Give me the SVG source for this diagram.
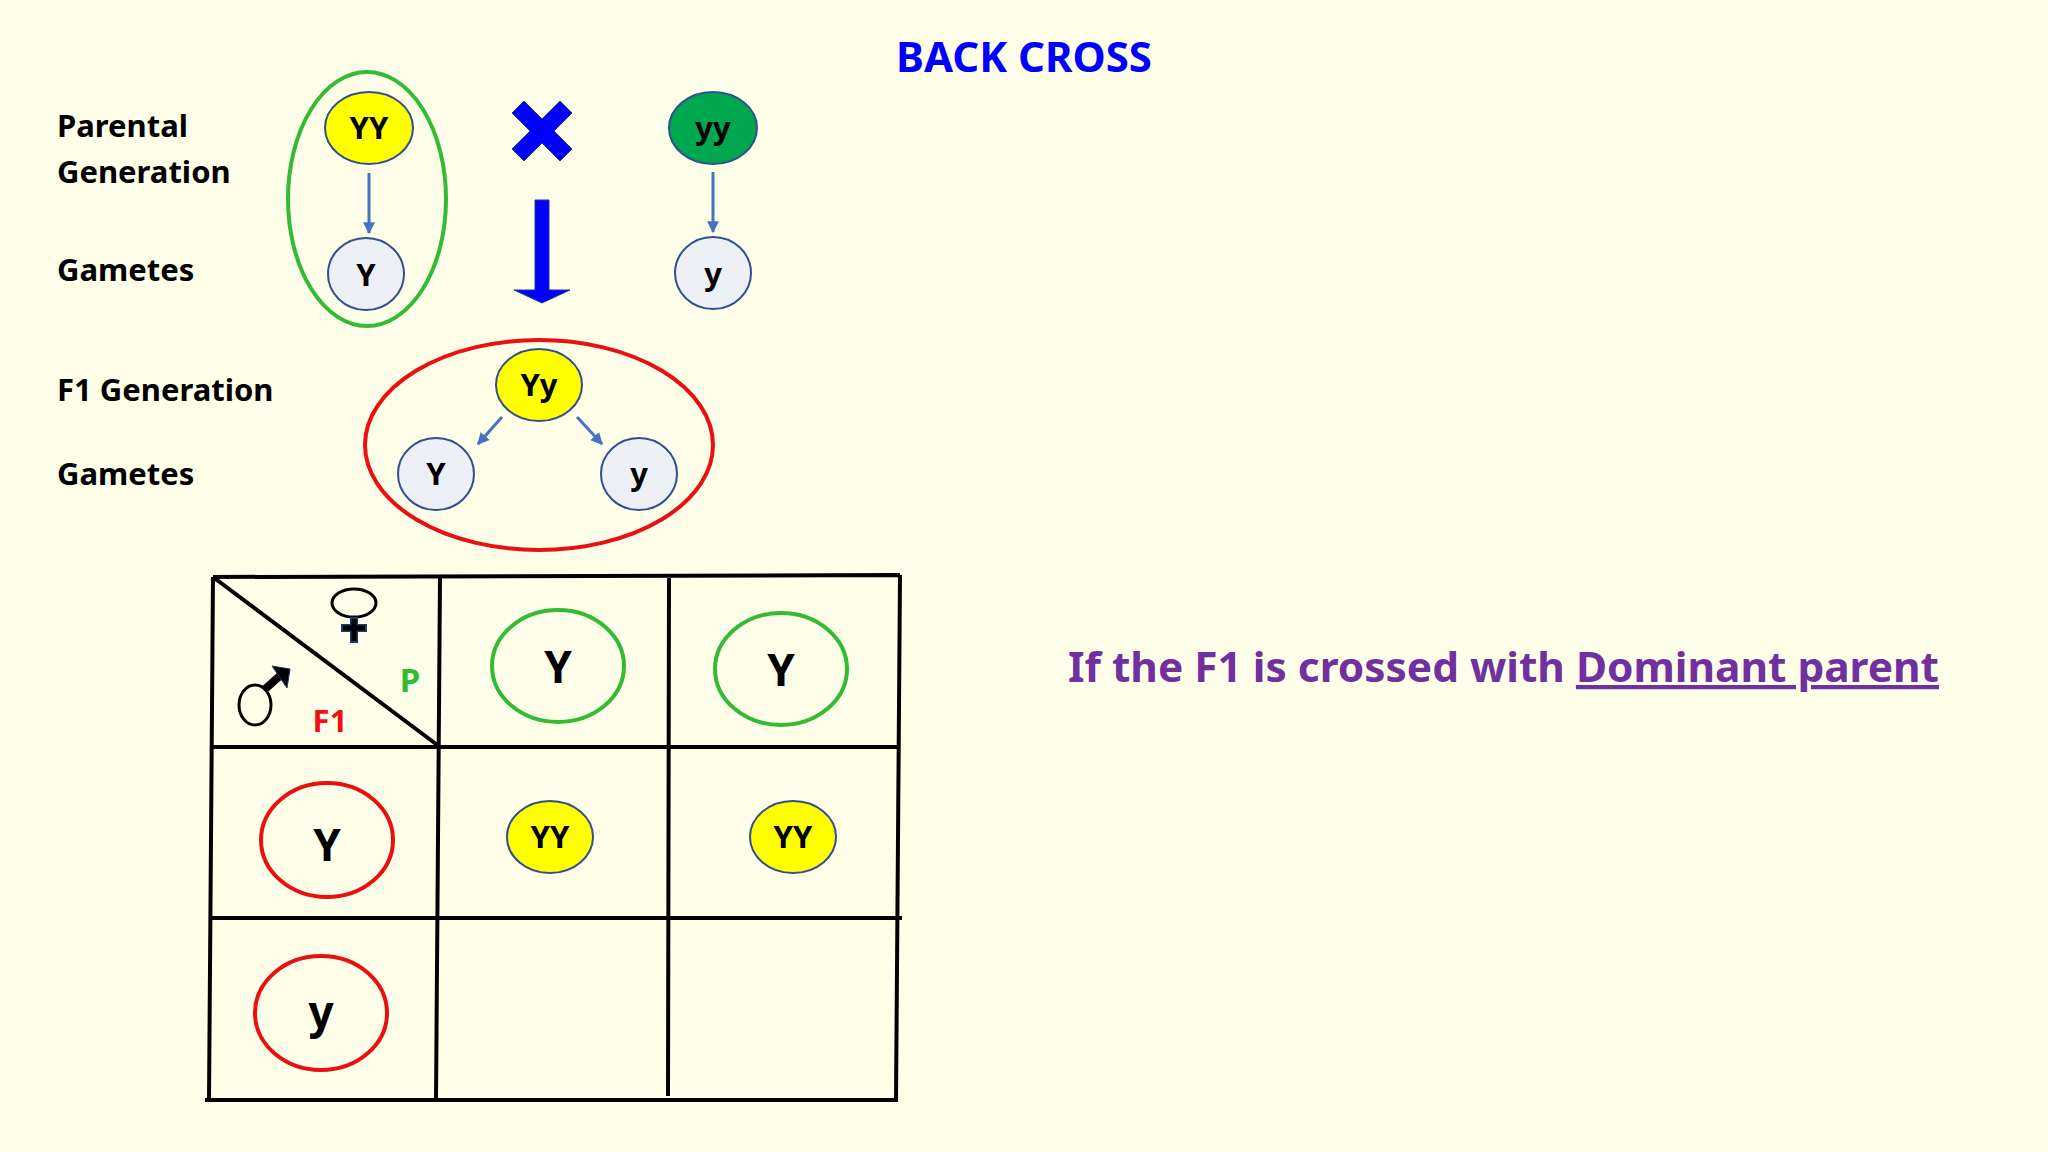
<svg xmlns="http://www.w3.org/2000/svg" width="2048" height="1152" viewBox="0 0 2048 1152">
<defs>
<style>
text{font-family:"Noto Sans","Liberation Sans",sans-serif;font-weight:bold;fill:#000}
.lbl{font-size:31px}
.n{stroke:#2f4f8f;stroke-width:2}
.g{fill:#eef0f8}
.ye{fill:#ffff00}
.ar{stroke:#4472c4;stroke-width:3;fill:none;marker-end:url(#ah)}
.grid{stroke:#000;stroke-width:4;fill:none}
.t{font-size:31px;text-anchor:middle}
.big{font-size:44px;text-anchor:middle}
</style>
<marker id="ah" viewBox="0 0 10 10" refX="9" refY="5" markerWidth="4" markerHeight="4" orient="auto"><path d="M0,0L10,5L0,10z" fill="#4472c4"/></marker>
</defs>
<rect width="2048" height="1152" fill="#fefee9"/>
<text x="1024" y="72" style="font-size:42px;fill:#0000ff" text-anchor="middle">BACK CROSS</text>
<g id="labels">
<text class="lbl" x="57" y="137">Parental</text>
<text class="lbl" x="57" y="183">Generation</text>
<text class="lbl" x="57" y="281">Gametes</text>
<text class="lbl" x="57" y="401">F1 Generation</text>
<text class="lbl" x="57" y="485">Gametes</text>
</g>
<g id="parentYY">
<ellipse cx="367" cy="199" rx="79" ry="127" fill="none" stroke="#33bb33" stroke-width="4"/>
<ellipse class="n ye" cx="369" cy="128" rx="44" ry="36"/><text class="t" x="369" y="139">YY</text>
<ellipse class="n g" cx="366" cy="274" rx="38" ry="36"/><text class="t" x="366" y="286">Y</text>
</g>
<g id="cross">
<path d="M542,133m-30,-20l12,-12l18,18l18,-18l12,12l-18,18l18,18l-12,12l-18,-18l-18,18l-12,-12l18,-18z" fill="#0000ff" stroke="#1f3a8a" stroke-width="1"/>
<path d="M535,200H549V290H570L542,303L514,290H535z" fill="#0000ff" stroke="#1f3a8a" stroke-width="1"/>
</g>
<g id="parentyy">
<ellipse class="n" cx="713" cy="128" rx="44" ry="36" fill="#00a650"/><text class="t" x="713" y="139">yy</text>
<ellipse class="n g" cx="713" cy="273" rx="38" ry="36"/><text class="t" x="713" y="285">y</text>
</g>
<g id="f1">
<ellipse cx="539" cy="445" rx="174" ry="105" fill="none" stroke="#e81010" stroke-width="4"/>
<ellipse class="n ye" cx="539" cy="385" rx="43" ry="36"/><text class="t" x="539" y="396">Yy</text>
<ellipse class="n g" cx="436" cy="474" rx="38" ry="36"/><text class="t" x="436" y="485">Y</text>
<ellipse class="n g" cx="639" cy="474" rx="38" ry="36"/><text class="t" x="639" y="485">y</text>
</g>
<g id="connectors">
<line class="ar" x1="369" y1="173" x2="369" y2="233"/>
<line class="ar" x1="713" y1="172" x2="713" y2="232"/>
<line class="ar" x1="502" y1="417" x2="478" y2="444"/>
<line class="ar" x1="577" y1="417" x2="602" y2="444"/>
</g>
<g id="table">
<path class="grid" d="M213,577L900,575M210,747L900,747M209,918L902,918M205,1100L898,1100M213,577L209,1100M440,577L436,1100M669,577L668,1096M900,575L896,1100M213,577L440,747"/>
<ellipse cx="354" cy="603" rx="22" ry="14" fill="none" stroke="#000" stroke-width="3"/>
<path d="M354,617V643M341,628H367" stroke="#1f3a6a" stroke-width="8"/>
<path d="M354,619V641M343,628H365" stroke="#000" stroke-width="5"/>
<ellipse cx="255" cy="705" rx="16" ry="20" fill="none" stroke="#000" stroke-width="3"/>
<path d="M264,690L282,674" stroke="#000" stroke-width="8"/>
<path d="M272,666L290,669L287,688z" fill="#000" stroke="#1f3a6a" stroke-width="1"/>
<text x="410" y="692" style="font-size:33px;fill:#33bb33" text-anchor="middle">P</text>
<text x="330" y="732" style="font-size:31px;fill:#ee1111" text-anchor="middle">F1</text>
</g>
<g id="cells">
<ellipse cx="558" cy="666" rx="66" ry="56" fill="none" stroke="#33bb33" stroke-width="4"/><text class="big" x="558" y="683">Y</text>
<ellipse cx="781" cy="669" rx="66" ry="56" fill="none" stroke="#33bb33" stroke-width="4"/><text class="big" x="781" y="686">Y</text>
<ellipse cx="327" cy="840" rx="66" ry="57" fill="none" stroke="#e81010" stroke-width="4"/><text class="big" x="327" y="861">Y</text>
<ellipse cx="321" cy="1013" rx="66" ry="57" fill="none" stroke="#e81010" stroke-width="4"/><text class="big" x="321" y="1028">y</text>
<ellipse class="n ye" cx="550" cy="837" rx="43" ry="36"/><text class="t" x="550" y="848">YY</text>
<ellipse class="n ye" cx="793" cy="837" rx="43" ry="36"/><text class="t" x="793" y="848">YY</text>
</g>
<g id="note">
<text x="1068" y="682" style="font-size:42px;fill:#7030a0" textLength="871" lengthAdjust="spacingAndGlyphs">If the F1 is crossed with <tspan text-decoration="underline">Dominant parent</tspan></text>
</g>
</svg>
